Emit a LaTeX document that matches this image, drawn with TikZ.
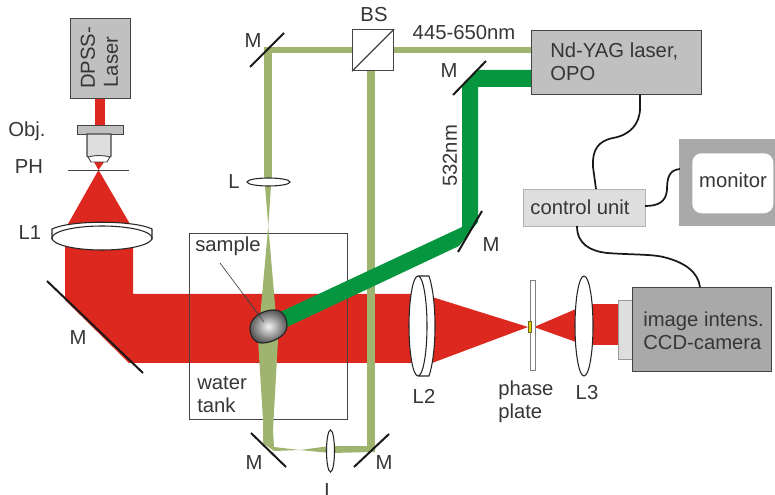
\documentclass[tikz,border=0pt]{standalone}
\usepackage{fontspec}
\setmainfont{Liberation Sans}
\definecolor{redbeam}{HTML}{DC281E}
\definecolor{lightbeam}{HTML}{9FB46E}
\definecolor{darkbeam}{HTML}{06963F}
\definecolor{txt}{HTML}{363636}
\definecolor{boxgray}{HTML}{C0C0C0}
\definecolor{camgray}{HTML}{A9A9A9}
\definecolor{ctrlgray}{HTML}{DEDEDE}
\definecolor{edge}{HTML}{444444}
\tikzset{
  lbl/.style={font=\fontsize{15.2}{17.5}\selectfont, text=txt, inner sep=0pt, align=left},
  device/.style={draw=edge, line width=0.9pt, fill=boxgray, inner sep=0pt, anchor=north west},
  mirror/.style={line width=1.5pt, draw=black!90},
  lens/.style={draw=black!85, line width=0.8pt, fill=white},
  cable/.style={draw=black!90, line width=1.3pt},
  redb/.style={fill=redbeam, draw=none},
  lightb/.style={fill=lightbeam, draw=none},
  darkb/.style={fill=darkbeam, draw=none},
}
\begin{document}
\begin{tikzpicture}[x=0.75pt,y=-0.75pt]
\useasboundingbox (0,0) rectangle (775,495);
% red beams
\fill[redb] (95,98) rectangle (105,126);
\fill[redb] (94,162) -- (104,162) -- (98.5,170) -- cycle;
\fill[redb] (98.5,170) -- (130,224) -- (68,224) -- cycle;
\fill[redb] (65,245) -- (133,245) -- (133,294) -- (415,294) -- (415,363) -- (129,363) -- (65,300) -- cycle;
\fill[redb] (432,297) -- (528,327) -- (432,363) -- cycle;
\fill[redb] (534,327) -- (576,309) -- (576,342) -- cycle;
\fill[redb] (590,304.5) rectangle (620,345);
% tank
\node[draw=edge, line width=0.9pt, minimum width=158*0.75pt, minimum height=186*0.75pt, inner sep=0pt, anchor=north west] (tank) at (189,233) {};
% light-green beams
\fill[lightb] (264,50) rectangle (272,182);
\fill[lightb] (265,186) -- (271,186) -- (268.3,226) -- cycle;
\fill[lightb] (268.3,226) -- (278,340) -- (273,430) -- (274,447) -- (300,450) -- (330,446) -- (371,446) -- (375,446) -- (375,452) -- (330,453) -- (300,450) -- (274,451) -- (263,443) -- (263,420) -- (258,340) -- cycle;
\fill[lightb] (367,60) rectangle (375,452);
\fill[lightb] (264,47) rectangle (532,53);
% dark-green beam
\fill[darkb] (532,70) -- (477,70) -- (462,86) -- (462,227) -- (278,313) -- (287,327) -- (459,246) -- (478,222) -- (478,87) -- (532,87) -- cycle;
% objective
\node[device, minimum width=46*0.75pt, minimum height=9*0.75pt] (flange) at (77,125) {};
\draw[edge, line width=0.9pt, fill=ctrlgray] (87,134) -- (87,156) -- (92,160) -- (106,160) -- (111,156) -- (111,134) -- cycle;
\draw[edge, line width=0.7pt, fill=white] (88,157) .. controls (95,155) and (103,155) .. (110,157) -- (107,162) -- (91,162) -- cycle;
\draw[edge, line width=0.6pt] (68,170) -- (129,170);
% DPSS laser
\node[device, minimum width=60*0.75pt, minimum height=80*0.75pt] (dpss) at (70,18) {};
\node[lbl, rotate=90, anchor=center] (dpsstxt1) at (88,58) {DPSS-};
\node[lbl, rotate=90, anchor=center] (dpsstxt2) at (111,62) {Laser};
% L1
\draw[lens] (52,229) .. controls (70,220) and (134,220) .. (152,229) -- (152,239) -- (52,239) -- cycle;
\draw[lens] (102,238) ellipse [x radius=50, y radius=12];
% mirrors
\coordinate (m1a) at (47,281); \coordinate (m1b) at (143,373);
\draw[mirror] (m1a) -- (m1b);
\coordinate (m2a) at (250,67); \coordinate (m2b) at (284,33);
\draw[mirror] (m2a) -- (m2b);
\coordinate (m3a) at (453,95); \coordinate (m3b) at (486,61);
\draw[mirror] (m3a) -- (m3b);
\coordinate (m4a) at (458,252); \coordinate (m4b) at (482,211);
\draw[mirror] (m4a) -- (m4b);
\coordinate (m5a) at (251,433); \coordinate (m5b) at (286,467);
\draw[mirror] (m5a) -- (m5b);
\coordinate (m6a) at (354,467); \coordinate (m6b) at (389,434);
\draw[mirror] (m6a) -- (m6b);
% small lenses
\draw[lens] (268.5,182) ellipse [x radius=21.5, y radius=4];
\draw[lens] (330.5,451) ellipse [x radius=4, y radius=21];
% beam splitter
\node[draw=edge, line width=0.9pt, fill=white, minimum width=41*0.75pt, minimum height=41*0.75pt, inner sep=0pt, anchor=north west] (bs) at (352,29) {};
\draw[edge, line width=0.9pt] (bs.south west) -- (bs.north east);
% L2
\draw[lens] (419,276) -- (429,276) .. controls (437,300) and (437,352) .. (429,376) -- (419,376) -- cycle;
\draw[lens] (418,326) ellipse [x radius=9, y radius=50];
% phase plate
\node[draw=gray, line width=0.8pt, fill=white, minimum width=5*0.75pt, minimum height=90*0.75pt, inner sep=0pt, anchor=north west] (plate) at (530,280) {};
\fill[yellow!70!olive, draw=olive!70!black, line width=0.3pt] (528,321) rectangle (531,332);
% L3
\draw[lens] (584,326) ellipse [x radius=9, y radius=50];
% camera
\node[draw=gray!80, line width=0.9pt, fill=ctrlgray, minimum width=14*0.75pt, minimum height=59*0.75pt, inner sep=0pt, anchor=north west] (adapter) at (618,300) {};
\node[device, fill=camgray, minimum width=139*0.75pt, minimum height=84*0.75pt] (camera) at (632,287) {};
\node[lbl, anchor=west] (camtxt) at (643,330.5) {image intens.\\CCD-camera};
% Nd-YAG
\node[device, minimum width=170*0.75pt, minimum height=64*0.75pt] (nd) at (531,30) {};
\node[lbl, anchor=west] (ndtxt) at (550,62) {Nd-YAG laser,\\OPO};
% control unit
\node[draw=gray!60, line width=0.7pt, fill=ctrlgray, minimum width=122*0.75pt, minimum height=37*0.75pt, inner sep=0pt, anchor=north west] (ctrl) at (523,189) {};
\node[lbl] (ctrltxt) at (580,207) {control unit};
% monitor
\fill[camgray] (679,139) rectangle (775,226);
\node[fill=white, rounded corners=7pt, minimum width=81*0.75pt, minimum height=60*0.75pt, inner sep=0pt, anchor=north west] (mon) at (692,153) {};
\node[lbl] (montxt) at (733,180) {monitor};
% cables
\coordinate (c1) at (640,94.5);
\coordinate (c2) at (596,189);
\coordinate (c3) at (645,206);
\coordinate (c4) at (680,169);
\coordinate (c5) at (577,226);
\coordinate (c6) at (700,287);
\draw[cable] (c1) -- (640,108) .. controls (640,124) and (630,135) .. (613,138) .. controls (598,141) and (592,150) .. (593,167) -- (c2);
\draw[cable] (c3) .. controls (658,206) and (666,202) .. (667,190) .. controls (667,176) and (670,170) .. (c4);
\draw[cable] (c5) .. controls (577,244) and (590,251) .. (607,253) .. controls (635,255) and (655,254) .. (667,258) .. controls (685,263) and (698,272) .. (c6);
% sample
\draw[edge, line width=0.5pt] (220,263) -- (264,322);
\shade[inner color=white!90!gray, outer color=black!65, draw=black!85, line width=0.9pt]
  (250,328) .. controls (250,318) and (262,310) .. (274,310) .. controls (283,310) and (287,318) .. (287,326) .. controls (287,336) and (272,343) .. (262,343) .. controls (254,343) and (250,336) .. (250,328) -- cycle;
\draw[edge, line width=0.4pt] (264,322) -- (244,295);
% labels
\node[lbl] (lObj) at (27,131) {Obj.};
\node[lbl] (lPH) at (29,167) {PH};
\node[lbl] (lL1) at (30,233) {L1};
\node[lbl] (lM1) at (78,338) {M};
\node[lbl] (lL) at (234,182) {L};
\node[lbl] (lM2) at (253,41) {M};
\node[lbl] (lBS) at (374,15) {BS};
\node[lbl] (lnm) at (464,33) {445-650nm};
\node[lbl] (lM3) at (449,71) {M};
\node[lbl, rotate=90] (l532) at (450,156) {532nm};
\node[lbl] (lM4) at (491,245) {M};
\node[lbl, anchor=west] (lsample) at (195,246) {sample};
\node[lbl, anchor=west] (lwater) at (197,394.5) {water\\tank};
\node[lbl] (lL2) at (424,396) {L2};
\node[lbl, anchor=west] (lphase) at (498,402) {phase\\plate};
\node[lbl] (lL3) at (587,393) {L3};
\node[lbl] (lM5) at (254,463) {M};
\node[lbl] (lM6) at (384,463) {M};
\node[lbl] (lL4) at (330,491) {L};
\end{tikzpicture}
\end{document}
